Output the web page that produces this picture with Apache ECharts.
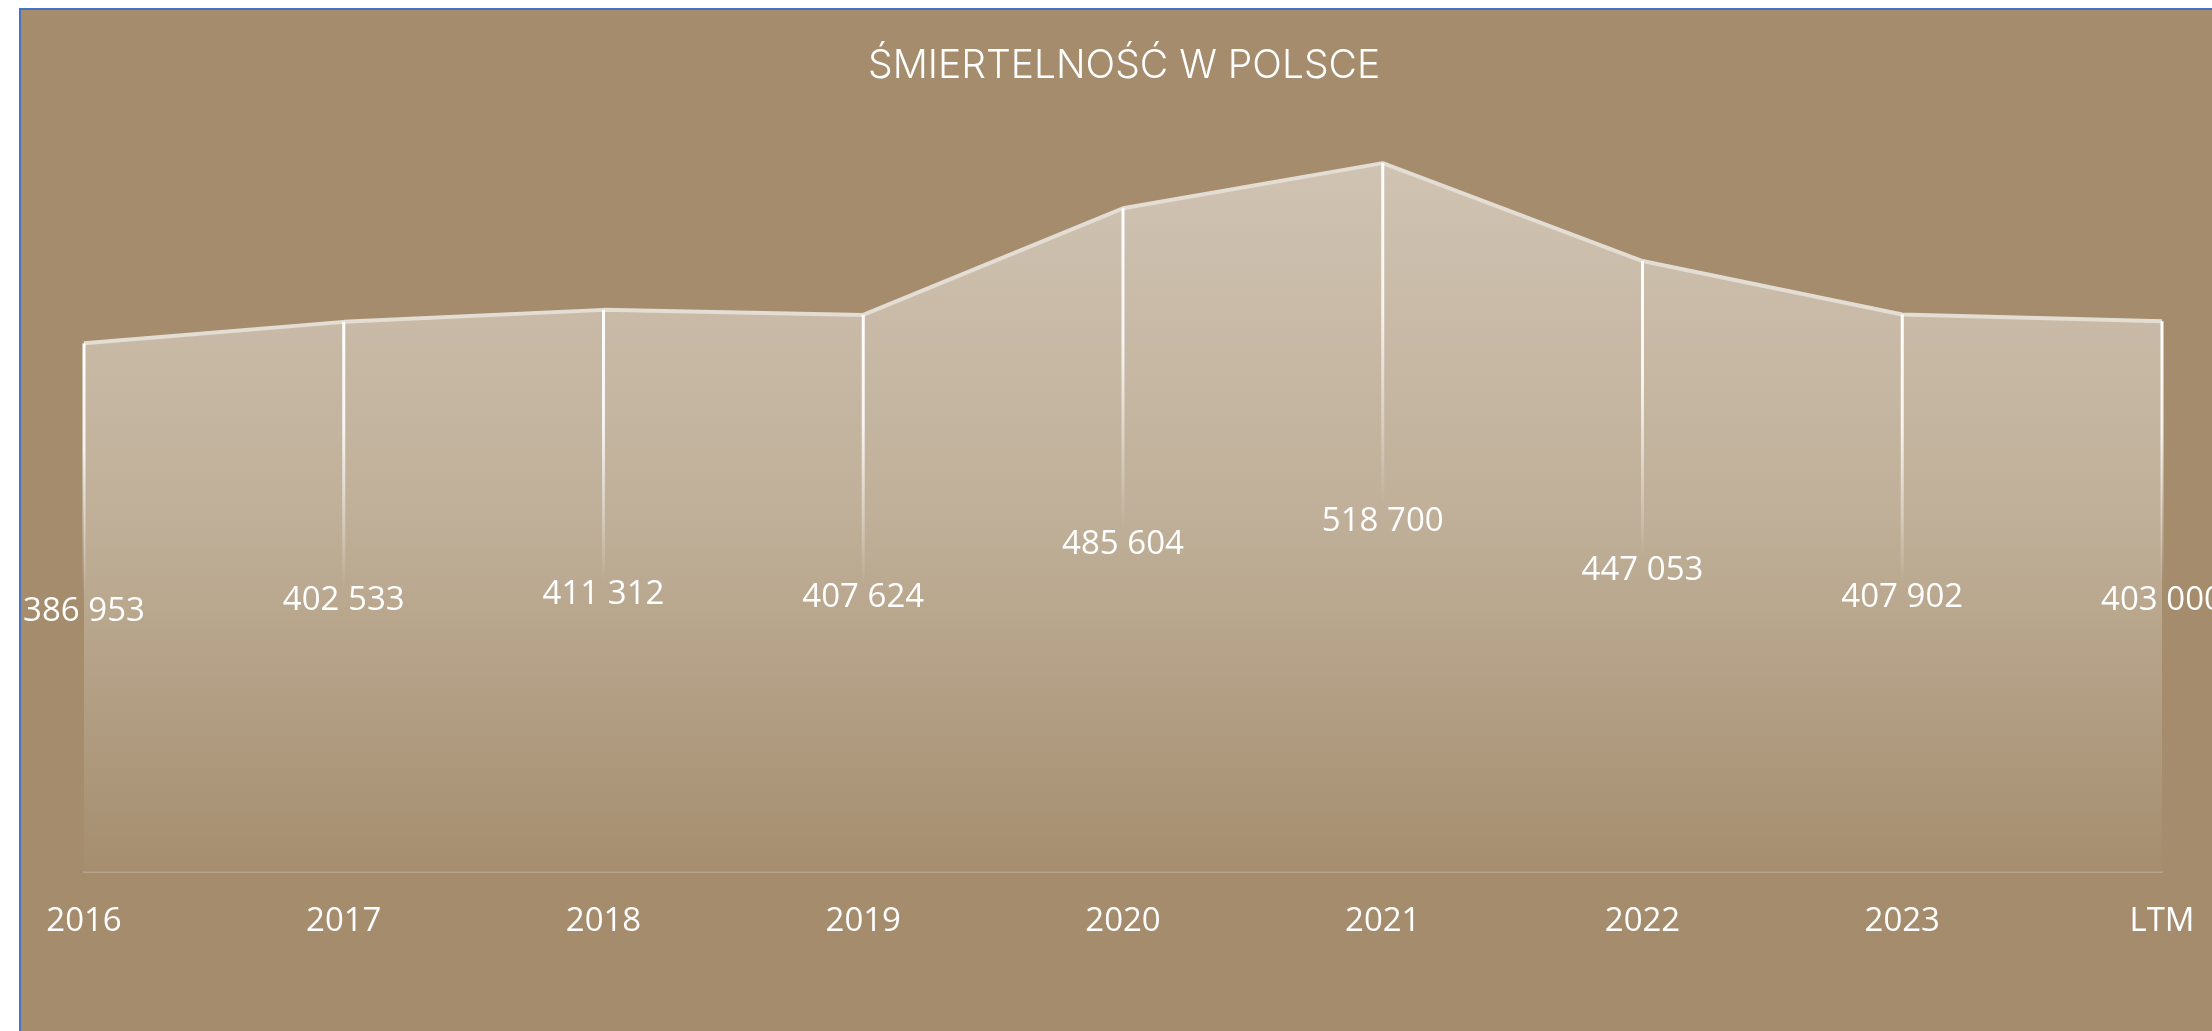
<!DOCTYPE html>
<html>
<head>
<meta charset="utf-8">
<script src="https://cdn.jsdelivr.net/npm/echarts@6/dist/echarts.min.js"></script>
<style>
  html, body { margin: 0; padding: 0; background: #fff; overflow: hidden; }
  .frame {
    position: absolute; left: 19px; top: 8px; width: 2220px; height: 1040px;
    background: #a48c6d; border: 2px solid #4472c4; box-sizing: border-box;
  }
  #chart { position: absolute; left: 0; top: 0; width: 2212px; height: 1031px; }
</style>
</head>
<body>
<div class="frame"></div>
<div id="chart"></div>
<script>
const categories = ["2016", "2017", "2018", "2019", "2020", "2021", "2022", "2023", "LTM"];
const deaths = [386953, 402533, 411312, 407624, 485604, 518700, 447053, 407902, 403000];
const titleText = "ŚMIERTELNOŚĆ W POLSCE";

// liczby ze spacją jako separatorem tysięcy
function fmt(v) {
  return String(v).replace(/\B(?=(\d{3})+(?!\d))/g, " ");
}

const chart = echarts.init(document.getElementById("chart"), null, { renderer: "canvas" });

const option = {
  backgroundColor: "transparent",
  animation: false,
  title: {
    text: titleText,
    left: 863,
    top: 42,
    textStyle: {
      color: "#ffffff",
      fontFamily: "Inter",
      fontWeight: 300,
      fontSize: 39,
    },
  },
  grid: {
    left: 84,
    right: 50,
    top: 52,
    bottom: 159,
  },
  xAxis: {
    type: "category",
    data: categories,
    boundaryGap: false,
    axisLine: { show: true, lineStyle: { color: "rgba(255,255,255,0.22)", width: 2 } },
    axisTick: { show: false },
    axisLabel: {
      color: "#ffffff",
      fontFamily: "Open Sans",
      fontSize: 33,
      margin: 33,
    },
    splitLine: { show: false },
  },
  yAxis: {
    type: "value",
    min: 0,
    max: 600000,
    show: false,
  },
  series: [
    {
      type: "line",
      data: deaths,
      symbol: "none",
      z: 2,
      lineStyle: { color: "#e4ddd3", width: 4 },
      areaStyle: {
        color: new echarts.graphic.LinearGradient(0, 0, 0, 1, [
          { offset: 0, color: "#e2dacf" },
          { offset: 0.5, color: "#ccbfab" },
          { offset: 1, color: "#a68f70" },
        ]),
      },
    },
    {
      // białe linie pionowe od punktu w dół, zanikające
      type: "bar",
      data: deaths,
      barWidth: 3,
      z: 3,
      itemStyle: {
        color: new echarts.graphic.LinearGradient(0, 0, 0, 1, [
          { offset: 0, color: "rgba(255,255,255,1)" },
          { offset: 0.2, color: "rgba(255,255,255,0.85)" },
          { offset: 0.48, color: "rgba(255,255,255,0)" },
          { offset: 1, color: "rgba(255,255,255,0)" },
        ]),
      },
      label: {
        show: true,
        position: "inside",
        offset: [0, 4],
        color: "#ffffff",
        fontFamily: "Open Sans",
        fontSize: 33,
        formatter: (p) => fmt(p.value),
      },
    },
  ],
};

chart.setOption(option);
</script>
</body>
</html>
